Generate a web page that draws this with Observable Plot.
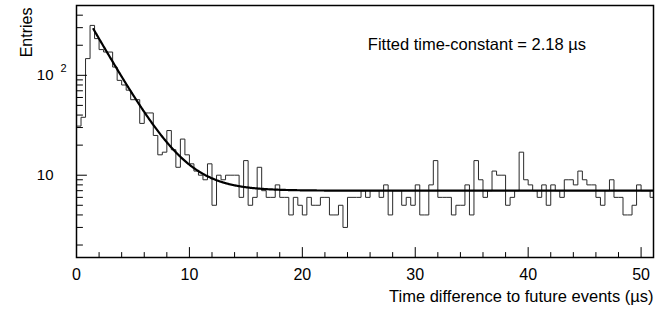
<!DOCTYPE html>
<html>
<head>
<meta charset="utf-8">
<script src="https://cdn.jsdelivr.net/npm/d3@7"></script>
<script src="https://cdn.jsdelivr.net/npm/@observablehq/plot@0.6"></script>
<style>
  html, body { margin: 0; padding: 0; background: #fff; }
  svg { display: block; }
</style>
</head>
<body>
<script>
// ---- data ----
const binWidth = 0.4; // µs
const counts = [
  31, 38, 147, 316, 233, 181, 171, 171, 121, 89,
  80, 71, 57, 57, 33, 42, 42, 25, 16, 17,
  28, 18, 12, 23, 16, 13, 11, 10, 9, 13,
  5, 10, 9, 10, 10, 10, 6, 14, 5, 6,
  12, 7, 6, 6, 8, 6, 6, 4, 6, 5,
  4, 6, 5, 5, 6, 6, 4, 4, 5, 3,
  6, 6, 6, 7, 6, 7, 7, 6, 8, 4,
  7, 7, 5, 6, 5, 8, 4, 4, 8, 14,
  6, 6, 6, 4, 5, 5, 8, 4, 14, 9,
  6, 7, 11, 10, 10, 5, 6, 7, 17, 9,
  8, 7, 6, 8, 5, 8, 7, 6, 9, 9,
  8, 11, 9, 8, 8, 6, 5, 7, 9, 6,
  6, 4, 4, 5, 8, 7, 7, 6
];

// fitted model: A * exp(-t / tau) + background
const fitTau = 2.18;
const fitAmp = 564;
const fitBg = 7;
const fitStart = 1.5;
const fitEnd = 51.1;

const xDomain = [0, 51.1];
const yDomain = [1.5, 500];
const xLabelTicks = [0, 10, 20, 30, 40, 50];
const xMinorTicks = [2, 4, 6, 8, 12, 14, 16, 18, 22, 24, 26, 28, 32, 34, 36, 38, 42, 44, 46, 48];
const yLabelTicks = [10, 100];
const yMinorTicks = [2, 3, 4, 5, 6, 7, 8, 9, 20, 30, 40, 50, 60, 70, 80, 90, 200, 300, 400];
const xTitle = "Time difference to future events (\u00b5s)";
const yTitle = "Entries";
const annotation = ["Fitted time-constant = 2.18 \u00b5s"];
const annotationPos = {x: 25.8, y: 204};

// ---- derived tables ----
const hist = counts.map((n, i) => ({t: i * binWidth, n}));
hist.push({t: counts.length * binWidth, n: counts[counts.length - 1]});
const fitPts = d3.range(fitStart, fitEnd + 1e-9, 0.05).map(t => ({t, n: fitAmp * Math.exp(-t / fitTau) + fitBg}));

const tickShape = {draw(context, l) { context.moveTo(0, 0); context.lineTo(0, -l); }};

const chart = Plot.plot({
  width: 669,
  height: 320,
  marginLeft: 76,
  marginRight: 16,
  marginTop: 5,
  marginBottom: 63,
  style: {fontFamily: "'Liberation Sans', Arial, Helvetica, sans-serif", color: "#000", background: "#fff"},
  x: {domain: xDomain},
  y: {type: "log", domain: yDomain},
  marks: [
    Plot.line(hist, {x: "t", y: "n", curve: "step-after", stroke: "#2a2a2a", strokeWidth: 1, clip: true}),
    Plot.line(fitPts, {x: "t", y: "n", stroke: "#000", strokeWidth: 2.2, clip: true}),
    // inward ticks
    Plot.vector(xLabelTicks, {x: d => d, frameAnchor: "bottom", length: 10, anchor: "start", shape: tickShape, stroke: "#000", strokeWidth: 1}),
    Plot.vector(xMinorTicks, {x: d => d, frameAnchor: "bottom", length: 5, anchor: "start", shape: tickShape, stroke: "#000", strokeWidth: 1}),
    Plot.vector(yLabelTicks, {y: d => d, frameAnchor: "left", rotate: 90, length: 10, anchor: "start", shape: tickShape, stroke: "#000", strokeWidth: 1}),
    Plot.vector(yMinorTicks, {y: d => d, frameAnchor: "left", rotate: 90, length: 6, anchor: "start", shape: tickShape, stroke: "#000", strokeWidth: 1}),
    Plot.frame({stroke: "#000", strokeWidth: 1.5}),
    // tick labels
    Plot.axisX({ticks: xLabelTicks, tickSize: 0, tickPadding: 11, fontSize: 16, label: null, tickFormat: d => String(d)}),
    Plot.axisY({ticks: yLabelTicks, tickSize: 0, tickPadding: 23, fontSize: 15, label: null, tickFormat: () => "10"}),
    Plot.text([100], {y: d => d, frameAnchor: "left", text: () => "2", dx: -16, dy: -7, textAnchor: "start", fontSize: 11}),
    // titles
    Plot.text([xTitle], {frameAnchor: "bottom-right", text: d => d, dy: 44, textAnchor: "end", fontSize: 16.5}),
    Plot.text([yTitle], {frameAnchor: "top-left", text: d => d, rotate: -90, textAnchor: "end", dx: -56, dy: 2, fontSize: 16}),
    Plot.text(annotation, {x: () => annotationPos.x, y: () => annotationPos.y, text: d => d, textAnchor: "start", fontSize: 16.5})
  ]
});
document.body.appendChild(chart);
</script>
</body>
</html>
